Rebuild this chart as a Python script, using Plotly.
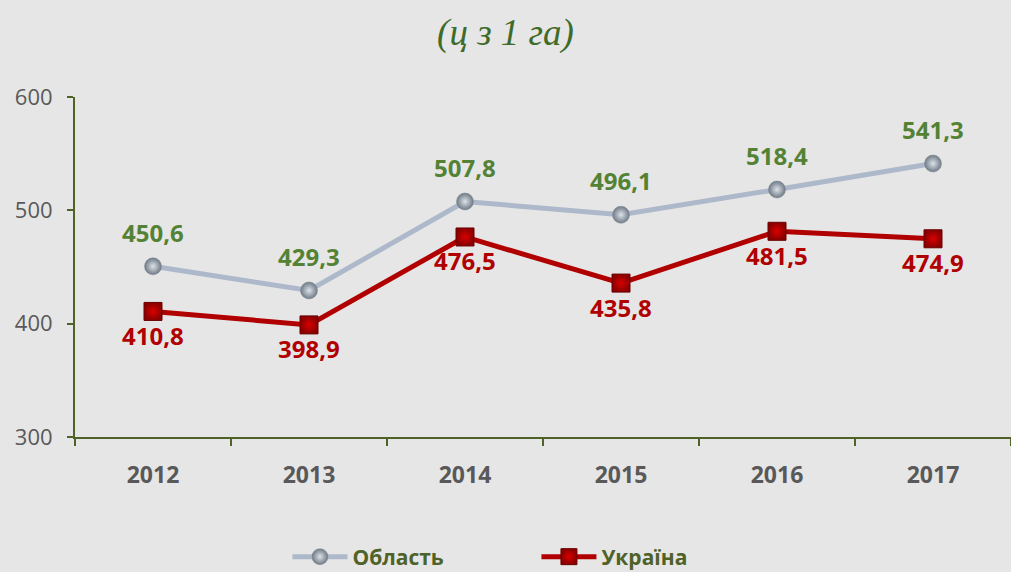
import plotly.graph_objects as go

years = ["2012", "2013", "2014", "2015", "2016", "2017"]
oblast = [450.6, 429.3, 507.8, 496.1, 518.4, 541.3]
ukraine = [410.8, 398.9, 476.5, 435.8, 481.5, 474.9]
oblast_labels = ["450,6", "429,3", "507,8", "496,1", "518,4", "541,3"]
ukraine_labels = ["410,8", "398,9", "476,5", "435,8", "481,5", "474,9"]

GREEN_AXIS = "#4f6228"
BG = "#e6e6e6"

fig = go.Figure()
fig.add_trace(go.Scatter(
    x=years, y=oblast, name="Область", mode="lines+markers",
    line=dict(color="#adb9ca", width=5),
    marker=dict(symbol="circle", size=17, color="#6f7a86",
                gradient=dict(type="radial", color="#dde2e8"),
                line=dict(color="#7f8893", width=0.5)),
    cliponaxis=False,
))
fig.add_trace(go.Scatter(
    x=years, y=ukraine, name="Україна", mode="lines+markers",
    line=dict(color="#b00000", width=5),
    marker=dict(symbol="square", size=18, color="#8a0000",
                gradient=dict(type="radial", color="#d80000"),
                line=dict(color="#6a0000", width=1)),
    cliponaxis=False,
))

annotations = []
for i, (v, t) in enumerate(zip(oblast, oblast_labels)):
    annotations.append(dict(x=i, y=v, xref="x", yref="y", text=t, showarrow=False, yshift=34,
                            font=dict(family="Open Sans", size=24, color="#548235", weight="bold")))
for i, (v, t) in enumerate(zip(ukraine, ukraine_labels)):
    annotations.append(dict(x=i, y=v, xref="x", yref="y", text=t, showarrow=False, yshift=-24,
                            font=dict(family="Open Sans", size=24, color="#b00000", weight="bold")))

fig.update_layout(
    width=1011, height=572,
    paper_bgcolor=BG, plot_bgcolor=BG,
    margin=dict(l=75, r=0, t=97, b=135, autoexpand=False),
    title=dict(text="<i>(ц з 1 га)</i>", x=0.5, xanchor="center",
               y=1 - 32 / 572, yanchor="middle",
               font=dict(family="Liberation Serif", size=37, color="#3f6b2a")),
    annotations=annotations,
    showlegend=True,
    legend=dict(orientation="h", x=0.493, xanchor="center",
                y=(437 - 557) / 340, yanchor="middle",
                font=dict(family="Open Sans", size=21, color=GREEN_AXIS, weight="bold"),
                itemwidth=55, traceorder="normal", entrywidth=179,
                bgcolor="rgba(0,0,0,0)"),
    xaxis=dict(type="category", range=[-0.5, 5.5], showgrid=False,
               showline=True, linecolor=GREEN_AXIS, linewidth=2,
               ticks="outside", tickson="boundaries", ticklen=7,
               tickcolor=GREEN_AXIS, tickwidth=2,
               tickfont=dict(family="Open Sans", size=23, color="#595959", weight="bold"),
               ticklabelstandoff=16, zeroline=False),
    yaxis=dict(range=[300, 600], dtick=100, showgrid=False,
               showline=True, linecolor=GREEN_AXIS, linewidth=2,
               ticks="outside", ticklen=6, tickcolor=GREEN_AXIS, tickwidth=2,
               tickfont=dict(family="Open Sans", size=22, color="#595959"),
               ticklabelstandoff=10, zeroline=False),
)

fig.write_html("out.html", config={"displayModeBar": False},
               post_script="document.body.style.margin='0';document.body.style.background='#e6e6e6';")
